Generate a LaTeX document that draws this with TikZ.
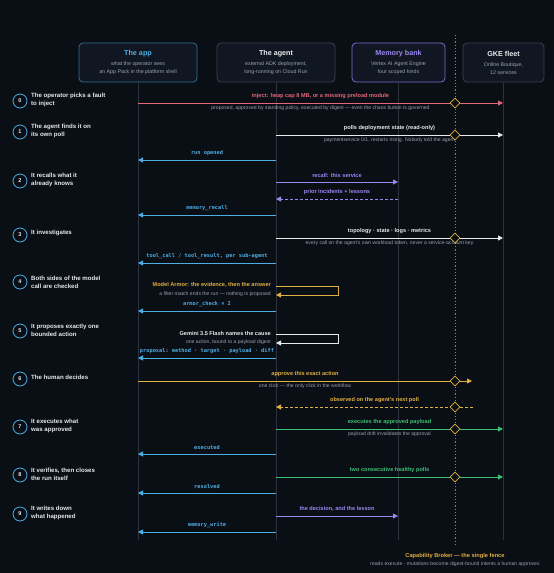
\documentclass[tikz,border=0pt]{standalone}
\usepackage{fontspec}
\setmainfont{Liberation Sans}
\setmonofont{DejaVu Sans Mono}
\usetikzlibrary{arrows.meta,shapes.geometric}

\definecolor{bgc}{HTML}{0A0E15}
\definecolor{boxc}{HTML}{111722}
\definecolor{linec}{HTML}{2C323C}
\definecolor{edgec}{HTML}{3A414D}
\definecolor{appc}{HTML}{4DAEE3}
\definecolor{appedge}{HTML}{2F6E93}
\definecolor{memc}{HTML}{9B87F0}
\definecolor{memedge}{HTML}{7C6CD0}
\definecolor{redc}{HTML}{E2677B}
\definecolor{yelc}{HTML}{E0B040}
\definecolor{grnc}{HTML}{3DBE78}
\definecolor{grayc}{HTML}{9AA3AE}
\definecolor{whc}{HTML}{E8EAED}
\definecolor{brkc}{HTML}{A98426}

\tikzset{
  hdr/.style={rectangle, rounded corners=4pt, fill=boxc, line width=0.8pt, minimum height=39pt, align=center, inner sep=0pt, text=grayc, font=\fontsize{5.3}{8}\selectfont},
  life/.style={draw=linec, line width=0.8pt},
  stepnum/.style={circle, draw=appc, line width=0.8pt, minimum size=14pt, inner sep=0pt, text=whc, font=\bfseries\fontsize{5.5}{6}\selectfont},
  steptxt/.style={anchor=west, align=left, text=whc, inner sep=0pt, font=\bfseries\fontsize{6.1}{8}\selectfont},
  lbl/.style={above=2.5pt, inner sep=1.5pt, font=\bfseries\fontsize{5.6}{6}\selectfont},
  note/.style={below=1.2pt, inner sep=1.5pt, text=grayc, font=\fontsize{5.1}{6}\selectfont},
  mono/.style={above=2.5pt, inner sep=1.5pt, text=appc, font=\ttfamily\bfseries\fontsize{5.3}{6}\selectfont},
  msg/.style={line width=0.9pt, -{Triangle[length=5pt,width=5pt]}},
  back/.style={msg, dash pattern=on 3pt off 2pt},
  gate/.style={diamond, draw=yelc, fill=bgc, line width=0.8pt, minimum size=10pt, inner sep=0pt},
}

\begin{document}
\begin{tikzpicture}[x=1pt, y=-1pt]
  \fill[bgc] (0,0) rectangle (554,573);
  \useasboundingbox (0,0) rectangle (554,573);

  \node[hdr, draw=appedge, minimum width=118pt] (app) at (138,62.5) {{\color{appc}\bfseries\fontsize{7.2}{8}\selectfont The app}\\[2pt] what the operator sees\\ an App Pack in the platform shell};
  \node[hdr, draw=edgec, minimum width=118pt] (agent) at (276,62.5) {{\color{whc}\bfseries\fontsize{7.2}{8}\selectfont The agent}\\[2pt] external ADK deployment,\\ long-running on Cloud Run};
  \node[hdr, draw=memedge, minimum width=93pt] (mem) at (398.5,62.5) {{\color{memc}\bfseries\fontsize{7.2}{8}\selectfont Memory bank}\\[2pt] Vertex AI Agent Engine\\ four scoped kinds};
  \node[hdr, draw=edgec, minimum width=81pt] (gke) at (503.5,62.5) {{\color{whc}\bfseries\fontsize{7.2}{8}\selectfont GKE fleet}\\[2pt] Online Boutique,\\ 12 services};

  \coordinate (append) at (138,540);
  \coordinate (agentend) at (276,540);
  \coordinate (memend) at (398,540);
  \coordinate (gkeend) at (503,540);
  \coordinate (brktop) at (455,35);
  \coordinate (brkend) at (455,546);

  \draw[life] (app.south) -- (append);
  \draw[life] (agent.south) -- (agentend);
  \draw[life] (mem.south -| memend) -- (memend);
  \draw[life] (gke.south -| gkeend) -- (gkeend);
  \draw[brkc, line width=0.9pt, dash pattern=on 1.2pt off 2pt] (brktop) -- (brkend);

  \node[stepnum] (s0) at (20,101) {0};
  \node[stepnum] (s1) at (20,132) {1};
  \node[stepnum] (s2) at (20,181) {2};
  \node[stepnum] (s3) at (20,235) {3};
  \node[stepnum] (s4) at (20,282) {4};
  \node[stepnum] (s5) at (20,331) {5};
  \node[stepnum] (s6) at (20,379) {6};
  \node[stepnum] (s7) at (20,427) {7};
  \node[stepnum] (s8) at (20,475) {8};
  \node[stepnum] (s9) at (20,514) {9};

  \node[steptxt] (s0t) at (31,100) {The operator picks a fault\\ to inject};
  \node[steptxt] (s1t) at (31,131) {The agent finds it on\\ its own poll};
  \node[steptxt] (s2t) at (31,180) {It recalls what it\\ already knows};
  \node[steptxt] (s3t) at (31,233) {It investigates};
  \node[steptxt] (s4t) at (31,282) {Both sides of the model\\ call are checked};
  \node[steptxt] (s5t) at (31,330) {It proposes exactly one\\ bounded action};
  \node[steptxt] (s6t) at (31,377) {The human decides};
  \node[steptxt] (s7t) at (31,426) {It executes what\\ was approved};
  \node[steptxt] (s8t) at (31,474) {It verifies, then closes\\ the run itself};
  \node[steptxt] (s9t) at (31,513) {It writes down\\ what happened};

  \coordinate (a0) at (138,103);
  \coordinate (g0) at (503,103);
  \coordinate (t1) at (276,135);
  \coordinate (g1) at (503,135);
  \coordinate (t1b) at (276,160);
  \coordinate (a1b) at (138,160);
  \coordinate (t2) at (276,182);
  \coordinate (m2) at (398,182);
  \coordinate (m2b) at (398,199);
  \coordinate (t2b) at (276,199);
  \coordinate (t2c) at (276,215);
  \coordinate (a2c) at (138,215);
  \coordinate (t3) at (276,238);
  \coordinate (g3) at (503,238);
  \coordinate (t3b) at (276,263);
  \coordinate (a3b) at (138,263);
  \coordinate (t4) at (276,286);
  \coordinate (t4r) at (276,295);
  \coordinate (t4c) at (276,311);
  \coordinate (a4c) at (138,311);
  \coordinate (t5) at (276,334);
  \coordinate (t5r) at (276,343);
  \coordinate (t5c) at (276,358);
  \coordinate (a5c) at (138,358);
  \coordinate (a6) at (138,381);
  \coordinate (h6) at (472,381);
  \coordinate (h6b) at (473,407);
  \coordinate (t6b) at (276,407);
  \coordinate (t7) at (276,429);
  \coordinate (g7) at (503,429);
  \coordinate (t7b) at (276,454);
  \coordinate (a7b) at (138,454);
  \coordinate (t8) at (276,477);
  \coordinate (g8) at (503,477);
  \coordinate (t8b) at (276,493);
  \coordinate (a8b) at (138,493);
  \coordinate (t9) at (276,516);
  \coordinate (m9) at (398,516);
  \coordinate (t9b) at (276,532);
  \coordinate (a9b) at (138,532);

  \draw[msg, redc] (a0) -- node[lbl, text=redc] {inject: heap cap 8 MB, or a missing preload module} node[note] {proposed, approved by standing policy, executed by digest — even the chaos button is governed} (g0);

  \draw[msg, whc] (t1) -- node[lbl, text=whc] {polls deployment state (read-only)} node[note] {paymentservice 0/1, restarts rising. Nobody told the agent} (g1);
  \draw[msg, appc] (t1b) -- node[mono] {run opened} (a1b);

  \draw[msg, memc] (t2) -- node[lbl, text=memc] {recall: this service} (m2);
  \draw[back, memc] (m2b) -- node[lbl, text=memc] {prior incidents + lessons} (t2b);
  \draw[msg, appc] (t2c) -- node[mono] {memory\_recall} (a2c);

  \draw[msg, whc] (t3) -- node[lbl, text=whc] {topology · state · logs · metrics} node[note] {every call on the agent's own workload token, never a service-account key} (g3);
  \draw[msg, appc] (t3b) -- node[mono] {tool\_call / tool\_result, per sub-agent} (a3b);

  \draw[msg, yelc] (t4) -- ++(62,0) |- (t4r);
  \node[anchor=east, inner sep=0pt, text=yelc, font=\bfseries\fontsize{5.6}{6}\selectfont] (armor) at (271,285) {Model Armor: the evidence, then the answer};
  \node[anchor=east, inner sep=0pt, text=grayc, font=\fontsize{5.1}{6}\selectfont] (armornote) at (271,294) {a filter match ends the run — nothing is proposed};
  \draw[msg, appc] (t4c) -- node[mono] {armor\_check × 2} (a4c);

  \draw[msg, whc] (t5) -- ++(62,0) |- (t5r);
  \node[anchor=east, inner sep=0pt, text=whc, font=\bfseries\fontsize{5.6}{6}\selectfont] (gemini) at (271,333) {Gemini 3.5 Flash names the cause};
  \node[anchor=east, inner sep=0pt, text=grayc, font=\fontsize{5.1}{6}\selectfont] (gemininote) at (271,342) {one action, bound to a payload digest};
  \draw[msg, appc] (t5c) -- node[mono] {proposal: method · target · payload · diff} (a5c);

  \draw[msg, yelc] (a6) -- node[lbl, text=yelc] {approve this exact action} node[note] {one click — the only click in the workflow} (h6);
  \draw[back, yelc] (h6b) -- node[lbl, text=yelc] {observed on the agent's next poll} (t6b);

  \draw[msg, grnc] (t7) -- node[lbl, text=grnc] {executes the approved payload} node[note] {payload drift invalidates the approval} (g7);
  \draw[msg, appc] (t7b) -- node[mono] {executed} (a7b);

  \draw[msg, grnc] (t8) -- node[lbl, text=grnc] {two consecutive healthy polls} (g8);
  \draw[msg, appc] (t8b) -- node[mono] {resolved} (a8b);

  \draw[msg, memc] (t9) -- node[lbl, text=memc] {the decision, and the lesson} (m9);
  \draw[msg, appc] (t9b) -- node[mono] {memory\_write} (a9b);

  \node[gate] (d0) at (455,103) {};
  \node[gate] (d1) at (455,135) {};
  \node[gate] (d3) at (455,238) {};
  \node[gate] (d6) at (455,381) {};
  \node[gate] (d6b) at (455,407) {};
  \node[gate] (d7) at (455,429) {};
  \node[gate] (d8) at (455,477) {};

  \node[inner sep=0pt, text=yelc, font=\bfseries\fontsize{5.7}{6}\selectfont] (brk) at (455,556) {Capability Broker — the single fence};
  \node[inner sep=0pt, text=grayc, font=\fontsize{5.1}{6}\selectfont] (brknote) at (455,564) {reads execute · mutations become digest-bound intents a human approves};
\end{tikzpicture}
\end{document}
